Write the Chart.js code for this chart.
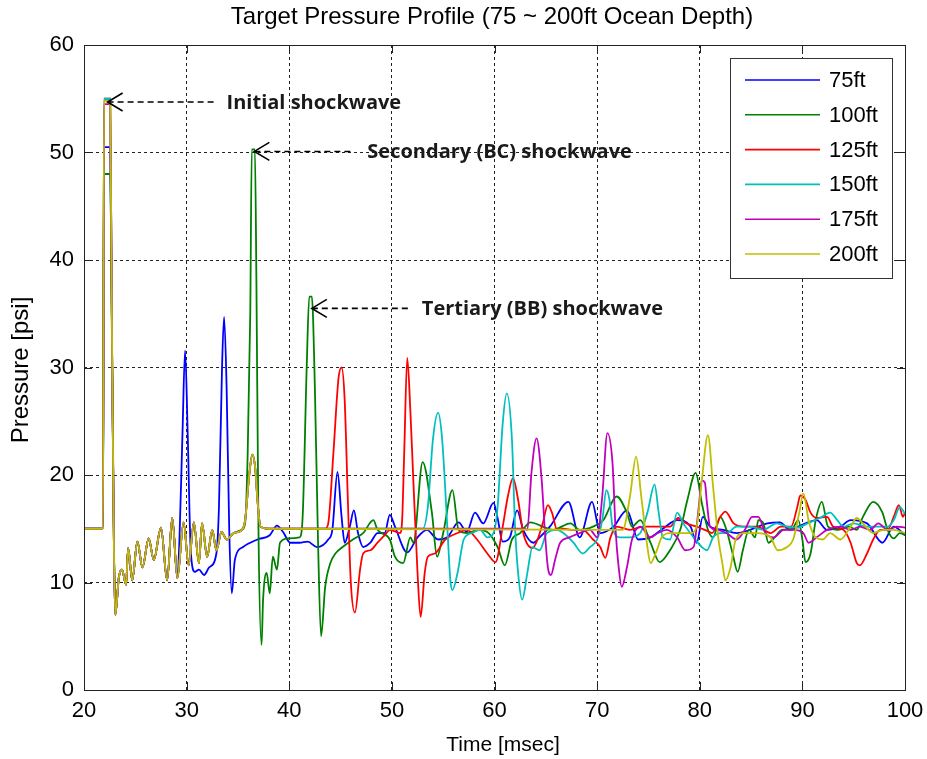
<!DOCTYPE html>
<html>
<head>
<meta charset="utf-8">
<script src="https://cdn.jsdelivr.net/npm/chart.js@4.4.1/dist/chart.umd.min.js"></script>
<style>
  html, body { margin: 0; padding: 0; background: #fff; }
  #wrap { width: 927px; height: 759px; }
</style>
</head>
<body>
<div id="wrap"><canvas id="myChart" width="927" height="759"></canvas></div>
<script>
// depths / legend labels
var depths = ['75ft', '100ft', '125ft', '150ft', '175ft', '200ft'];
var xTicks = [20, 30, 40, 50, 60, 70, 80, 90, 100];
var yTicks = [0, 10, 20, 30, 40, 50, 60];

// initial shockwave, [t msec, psi]; peak differs per depth
var onsetTimes = [20, 21.85, 21.95, 22.55, 22.75];
var onsetBase = [15, 15, null, null, 30];
var onsetPeaks = [50.5, 48, 55, 55, 54.5, 54.8];

// bubble ringing common to every depth
var ringing = [
  [23.05, 7], [23.4, 10.5], [23.7, 11.2], [24.1, 9.8], [24.3, 13.2], [24.7, 10.2],
  [25.2, 13.8], [25.7, 11.4], [26.3, 14.1], [26.8, 12.1], [27.5, 15.1], [28.1, 10.2],
  [28.6, 16], [29.1, 10.4], [29.7, 15.6], [30.2, 11.6], [30.7, 15.6], [31.2, 11.8],
  [31.5, 15.5], [32.0, 12.4], [32.5, 14.9], [32.9, 13], [33.4, 14.7], [33.9, 14],
  [34.6, 14.6], [35.4, 14.9]
];

// small BC bump seen on 125-200ft
var bcBump = [
  [35.7, 15.8], [36.1, 20], [36.4, 21.9], [36.7, 20.5], [36.9, 17.7], [37.2, 15.2], [38, 15]
];

var tail75 = [
  [29.3, 14], [29.6, 24], [29.85, 31.6], [30.1, 24], [30.4, 13], [30.8, 11], [31.2, 11.2],
  [31.7, 10.7], [32.2, 11.4], [32.9, 12.7], [33.15, 17], [33.45, 30], [33.65, 34.7], [33.9, 28],
  [34.15, 15], [34.4, 9], [34.7, 12.1], [35.5, 13.3], [36.9, 14], [38.1, 14.4], [38.8, 15.3],
  [39.4, 14.7], [40.1, 13.7], [41, 13.7], [41.8, 13.8], [42.7, 13.3], [43.8, 14], [44.2, 14.9],
  [44.7, 20.3], [45.1, 16.1], [45.4, 13.7], [45.9, 15.2], [46.3, 16.7], [46.7, 14.6], [47.2, 13.3],
  [47.9, 13.7], [48.6, 14.6], [49.3, 14.6], [49.8, 16.3], [50.3, 15.2], [51.5, 12.8], [52.5, 14.2],
  [53.4, 14.9], [54.5, 14], [55.4, 14.2], [56.5, 15.6], [57.3, 14.7], [58.1, 16.5], [58.9, 15.5],
  [59.9, 17.4], [60.3, 16], [60.8, 13.8], [61.5, 14.2], [62.2, 16.7], [62.8, 14.9], [63.8, 13.7],
  [64.4, 14.2], [65.4, 15.2], [67.2, 17.5], [68.3, 14.2], [69.5, 17.5], [70.3, 14.6], [71.6, 15.2],
  [72.9, 16.7], [74, 14], [75.2, 14.2], [76.4, 15], [77.8, 15.8], [79.1, 15.2], [79.7, 13.7],
  [80.3, 16.1], [81, 15.2], [82.3, 14.9], [83.6, 14.6], [84.9, 14.9], [86.6, 15.5], [87.8, 15.6],
  [88.8, 14.9], [89.8, 15.3], [91.4, 15.8], [92.4, 14.9], [93.7, 15.2], [94.7, 15.8], [96.3, 15.5],
  [97.8, 13.7], [98.9, 15.2], [100, 14.4]
];

var tail100 = [
  [35.7, 15.5], [35.95, 22], [36.2, 35], [36.35, 50.3], [36.65, 50.3], [36.8, 38], [37.0, 15],
  [37.3, 4.2], [37.45, 8.4], [37.8, 10.9], [38.1, 9], [38.4, 12.4], [38.8, 11.2], [39.1, 13.7],
  [39.9, 14.1], [41, 14.2], [41.3, 16], [41.7, 30], [41.95, 36.6], [42.2, 36.6], [42.5, 28],
  [42.8, 14], [43.1, 5], [43.5, 9.6], [44, 11.8], [44.5, 12.7], [45.2, 13.3], [46.2, 14],
  [47.2, 14.6], [48.2, 15.8], [48.6, 14.9], [49.8, 14], [50.3, 12.4], [51.1, 11.8], [51.8, 14.2],
  [52.1, 13.7], [53, 21.2], [53.9, 16.5], [54.4, 12.4], [55, 14.6], [55.9, 18.6], [56.5, 14.9],
  [57.4, 14.6], [58.3, 14.9], [59.3, 14.7], [60.3, 13.3], [61, 11.6], [61.7, 14], [62.5, 14.6],
  [63.5, 15.6], [64.7, 15.2], [65.7, 14.9], [67.4, 15.5], [68.3, 14.9], [69.6, 15.2], [70.6, 15.8],
  [71.9, 18], [72.9, 16.5], [73.4, 15.2], [74.2, 15.8], [75.2, 13.7], [76.1, 11.9], [77.1, 13],
  [78.1, 14.9], [78.8, 17.7], [79.6, 20.2], [80.2, 17.4], [80.8, 14.9], [81.3, 14.2], [82, 16.1],
  [82.6, 14.9], [83.2, 12.7], [83.7, 11], [84.2, 13], [84.8, 14.9], [85.4, 14.2], [85.7, 15.8],
  [86.2, 15.5], [86.7, 13.7], [87.3, 14.2], [88, 14.9], [89, 15], [89.6, 15.8], [90, 14],
  [90.3, 11.9], [90.8, 12.7], [91.3, 15.8], [91.9, 17.5], [92.5, 15.2], [93.5, 14.9], [94.5, 15.2],
  [95.3, 14.9], [95.9, 16.1], [96.9, 17.5], [97.8, 16.5], [98.3, 14.9], [98.9, 14.1], [99.5, 14.6],
  [100, 14.4]
];

var tail125 = [
  [43.5, 15], [43.8, 15.5], [44.3, 22], [44.8, 29], [45.1, 30], [45.4, 27], [45.7, 18], [46.0, 10],
  [46.4, 7.2], [46.9, 11.2], [47.2, 12.7], [47.9, 13], [48.6, 13.7], [49.3, 14.4], [49.8, 14.9],
  [50.8, 14.6], [51.0, 15.8], [51.2, 22], [51.5, 30.9], [51.8, 26], [52.1, 19.3], [52.5, 10.9],
  [52.8, 6.8], [53.2, 10.9], [53.5, 12.4], [54.2, 12.7], [55.2, 14], [56.4, 14.6], [57.3, 14.9],
  [58.3, 14], [59.3, 12.7], [60.1, 11.9], [60.8, 15.2], [61.3, 18], [61.8, 19.7], [62.3, 17.7],
  [62.8, 14.6], [63.7, 13.2], [64.2, 14], [64.7, 15.5], [65.2, 17.2], [65.6, 16.5], [66.1, 14.9],
  [66.7, 15], [67.7, 14.9], [68.6, 14.9], [69.6, 14], [70.3, 13.3], [70.8, 12.3], [71.3, 14.2],
  [71.9, 15.2], [73.2, 14.9], [74.5, 15.2], [75.8, 15.2], [77.1, 15.2], [77.9, 16], [78.7, 15.5],
  [79.7, 15.2], [80.7, 14.8], [81.2, 14.6], [82, 16.1], [82.5, 16.6], [83.3, 15.5], [84.3, 15.2],
  [85.6, 15.2], [86.9, 14.6], [87.9, 15.2], [88.9, 15.2], [89.5, 17], [89.8, 18.1], [90.3, 17.7],
  [90.8, 16.5], [91.4, 16], [92.4, 16.1], [93, 15.2], [94, 14.9], [94.7, 13.7], [95.3, 11.8],
  [95.6, 11.6], [96.3, 12.7], [96.9, 14], [97.6, 14.9], [98.3, 14.9], [98.9, 16.1], [99.4, 17.2],
  [99.8, 16.1], [100, 16.5]
];

var tail150 = [
  [53, 15], [53.5, 17], [54, 23.3], [54.5, 25.8], [54.9, 23.3], [55.4, 15.2], [55.7, 10.2],
  [55.9, 9.3], [56.4, 10.9], [57, 14], [57.8, 14.6], [58.6, 14.9], [59.3, 14.2], [59.9, 14.6],
  [60.3, 17], [60.8, 24.8], [61.2, 27.6], [61.7, 23.3], [62, 15.2], [62.3, 10.9], [62.7, 8.4],
  [63.2, 10.9], [63.7, 13.3], [64.4, 13], [65.1, 14.6], [66.1, 14.9], [66.7, 14.6], [67.7, 13.7],
  [68.6, 12.7], [69.3, 13.3], [70, 14], [70.5, 15.8], [70.9, 18.6], [71.2, 17.7], [71.5, 15.2],
  [72.2, 14.2], [73.2, 14.2], [74.2, 14.6], [74.9, 16.5], [75.6, 19.1], [76, 16.5], [76.4, 14.2],
  [77.1, 14], [77.8, 16.5], [78.4, 15.5], [79.4, 14.2], [80.2, 13.3], [80.7, 13], [81.3, 14.2],
  [82, 14.6], [82.6, 14.6], [83.6, 15.2], [84.9, 15.2], [86.2, 14.9], [87.5, 15.5], [88.5, 15.2],
  [89.5, 15.1], [90.5, 15.5], [91.7, 16], [92.7, 16.5], [93.4, 15.8], [94, 15.2], [95, 15.5],
  [96.3, 15.2], [97.3, 15.2], [98.3, 15.2], [98.9, 15.8], [99.5, 17], [100, 16.4]
];

var tail175 = [
  [62.9, 15], [63.2, 14.9], [63.6, 20.2], [64.1, 23.4], [64.6, 19.5], [64.9, 14.9], [65.2, 11.4],
  [65.5, 10.7], [65.9, 12.1], [66.4, 13.7], [67.3, 14.2], [68.3, 14.6], [69.3, 14.9], [70, 14.2],
  [70.5, 18], [71, 23.9], [71.5, 21.1], [71.8, 14.9], [72.1, 11.4], [72.4, 9.6], [72.9, 11.4],
  [73.4, 14], [74.2, 15.2], [75.2, 14.2], [75.9, 14.6], [76.8, 14.9], [77.8, 14.2], [78.6, 13],
  [79.4, 13.3], [79.9, 17], [80.2, 19.5], [80.5, 19.3], [80.7, 17.4], [81, 15.2], [81.7, 14.9],
  [82.6, 14.6], [83.6, 14], [84.4, 14.9], [85.1, 16.1], [85.7, 16.1], [86.4, 14.6], [87.2, 14.2],
  [88.2, 14.9], [89.1, 14.9], [90.1, 14.6], [90.6, 13.7], [91.4, 14.2], [92.4, 14.9], [93.7, 15.2],
  [94.7, 14.9], [95.6, 15.2], [96.6, 14.9], [97.4, 15.5], [98.3, 14.9], [99.2, 15.2], [100, 15.1]
];

var tail200 = [
  [72.5, 14.9], [73.2, 18], [73.8, 21.7], [74.3, 18], [74.9, 13.3], [75.2, 11.8], [75.7, 12.7],
  [76.3, 14.2], [77.1, 14.6], [78.1, 14.6], [79.1, 14.6], [79.7, 15.2], [80.2, 19.5], [80.8, 23.7],
  [81.3, 18.9], [81.8, 14.2], [82.2, 11.8], [82.5, 10.2], [83, 11.4], [83.5, 14], [84.3, 14.6],
  [85.6, 14.6], [86.9, 14.2], [87.6, 13], [88.5, 13.3], [89.1, 14], [89.7, 16.5], [90.1, 18.3],
  [90.6, 15.8], [91.3, 14.2], [92, 14], [92.7, 14.6], [93.7, 14], [94.7, 15.2], [95.3, 16],
  [95.9, 15.5], [96.9, 14.6], [97.9, 14.9], [98.9, 14.9], [100, 14.6]
];

var colors = ['#0000ff', '#008000', '#ff0000', '#00bfbf', '#bf00bf', '#bfbf00'];

var annotations = [
  { text: 'Initial shockwave', t: 22.3, p: 54.7, len: 106 },
  { text: 'Secondary (BC) shockwave', t: 36.6, p: 50.1, len: 100 },
  { text: 'Tertiary (BB) shockwave', t: 42.2, p: 35.5, len: 97 }
];

function onset(peak) {
  var out = [];
  for (var i = 0; i < onsetTimes.length; i++) {
    out.push([onsetTimes[i], onsetBase[i] === null ? peak : onsetBase[i]]);
  }
  return out;
}

var series = [
  onset(onsetPeaks[0]).concat(ringing.filter(function (d) { return d[0] <= 29.1; }), tail75),
  onset(onsetPeaks[1]).concat(ringing, tail100),
  onset(onsetPeaks[2]).concat(ringing, bcBump, tail125),
  onset(onsetPeaks[3]).concat(ringing, bcBump, tail150),
  onset(onsetPeaks[4]).concat(ringing, bcBump, tail175),
  onset(onsetPeaks[5]).concat(ringing, bcBump, tail200)
];

var datasets = [];
for (var i = 0; i < depths.length; i++) {
  datasets.push({
    label: depths[i],
    data: series[i].map(function (d) { return { x: d[0], y: d[1] }; }),
    borderColor: colors[i],
    borderWidth: 1.8,
    pointRadius: 0,
    tension: 0,
    cubicInterpolationMode: 'monotone',
    order: depths.length - i
  });
}

var FONT = '"Liberation Sans", Arial, sans-serif';

var decorations = {
  id: 'decorations',
  afterDatasetsDraw: function (chart) {
    var ctx = chart.ctx, a = chart.chartArea;
    var xs = chart.scales.x, ys = chart.scales.y;
    ctx.save();
    // frame
    ctx.strokeStyle = '#222';
    ctx.lineWidth = 1;
    ctx.setLineDash([]);
    ctx.strokeRect(a.left + 0.5, a.top + 0.5, a.right - a.left, a.bottom - a.top);
    // inner ticks
    ctx.beginPath();
    xTicks.forEach(function (v) {
      var px = Math.round(xs.getPixelForValue(v)) + 0.5;
      ctx.moveTo(px, a.bottom); ctx.lineTo(px, a.bottom - 8);
      ctx.moveTo(px, a.top); ctx.lineTo(px, a.top + 8);
    });
    yTicks.forEach(function (v) {
      var py = Math.round(ys.getPixelForValue(v)) + 0.5;
      ctx.moveTo(a.left, py); ctx.lineTo(a.left + 8, py);
      ctx.moveTo(a.right, py); ctx.lineTo(a.right - 8, py);
    });
    ctx.stroke();

    // annotations
    ctx.strokeStyle = '#000';
    ctx.fillStyle = '#1a1a1a';
    ctx.lineWidth = 1.6;
    annotations.forEach(function (an) {
      var tx = xs.getPixelForValue(an.t), ty = ys.getPixelForValue(an.p);
      ctx.setLineDash([]);
      ctx.beginPath();
      ctx.moveTo(tx + 15, ty - 9); ctx.lineTo(tx, ty); ctx.lineTo(tx + 15, ty + 9);
      ctx.stroke();
      ctx.setLineDash([6, 4]);
      ctx.beginPath();
      ctx.moveTo(tx, ty); ctx.lineTo(tx + an.len, ty);
      ctx.stroke();
      ctx.setLineDash([]);
      ctx.font = 'bold 20px "Open Sans", sans-serif';
      ctx.textAlign = 'left';
      ctx.textBaseline = 'middle';
      ctx.fillText(an.text, tx + an.len + 13, ty + 1);
    });
    ctx.restore();
  },
  afterDraw: function (chart) {
    var ctx = chart.ctx, a = chart.chartArea;
    ctx.save();
    // title and axis labels
    ctx.fillStyle = '#000';
    ctx.textAlign = 'center';
    ctx.textBaseline = 'middle';
    ctx.font = '24px ' + FONT;
    ctx.fillText('Target Pressure Profile (75 ~ 200ft Ocean Depth)', 492, 17);
    ctx.font = '21px ' + FONT;
    ctx.fillText('Time [msec]', 503, 745);
    ctx.font = '24px ' + FONT;
    ctx.translate(21, 370);
    ctx.rotate(-Math.PI / 2);
    ctx.fillText('Pressure [psi]', 0, 0);
    ctx.restore();

    // legend box
    ctx.save();
    var lx = 730, ly = 58, lw = 162, lh = 220;
    ctx.fillStyle = '#fff';
    ctx.fillRect(lx, ly, lw, lh);
    ctx.strokeStyle = '#333';
    ctx.lineWidth = 1;
    ctx.strokeRect(lx + 0.5, ly + 0.5, lw, lh);
    ctx.font = '22px ' + FONT;
    ctx.textAlign = 'left';
    ctx.textBaseline = 'middle';
    chart.data.datasets.forEach(function (ds, i) {
      var y = ly + 22 + i * 34.8;
      ctx.strokeStyle = ds.borderColor;
      ctx.lineWidth = 1.6;
      ctx.beginPath();
      ctx.moveTo(lx + 15, y); ctx.lineTo(lx + 90, y);
      ctx.stroke();
      ctx.fillStyle = '#000';
      ctx.fillText(ds.label, lx + 99, y + 1);
    });
    ctx.restore();
  }
};

new Chart(document.getElementById('myChart'), {
  type: 'line',
  data: { datasets: datasets },
  options: {
    responsive: false,
    animation: false,
    events: [],
    layout: { padding: { left: 0, right: 22, top: 45, bottom: 0 } },
    plugins: { legend: { display: false }, tooltip: { enabled: false }, title: { display: false } },
    scales: {
      x: {
        type: 'linear',
        min: 20, max: 100,
        afterFit: function (s) { s.height = 69; s.paddingLeft = 0; s.paddingRight = 0; },
        afterBuildTicks: function (s) { s.ticks = xTicks.map(function (v) { return { value: v }; }); },
        ticks: { color: '#000', font: { size: 22, family: FONT }, padding: 8, maxRotation: 0 },
        grid: { color: '#222', lineWidth: 1, drawTicks: false },
        border: { display: false, dash: [3, 3] }
      },
      y: {
        min: 0, max: 60,
        afterFit: function (s) { s.width = 84; s.paddingTop = 0; s.paddingBottom = 0; },
        afterBuildTicks: function (s) { s.ticks = yTicks.map(function (v) { return { value: v }; }); },
        ticks: { color: '#000', font: { size: 22, family: FONT }, padding: 10 },
        grid: { color: '#222', lineWidth: 1, drawTicks: false },
        border: { display: false, dash: [3, 3] }
      }
    }
  },
  plugins: [decorations]
});
</script>
</body>
</html>
